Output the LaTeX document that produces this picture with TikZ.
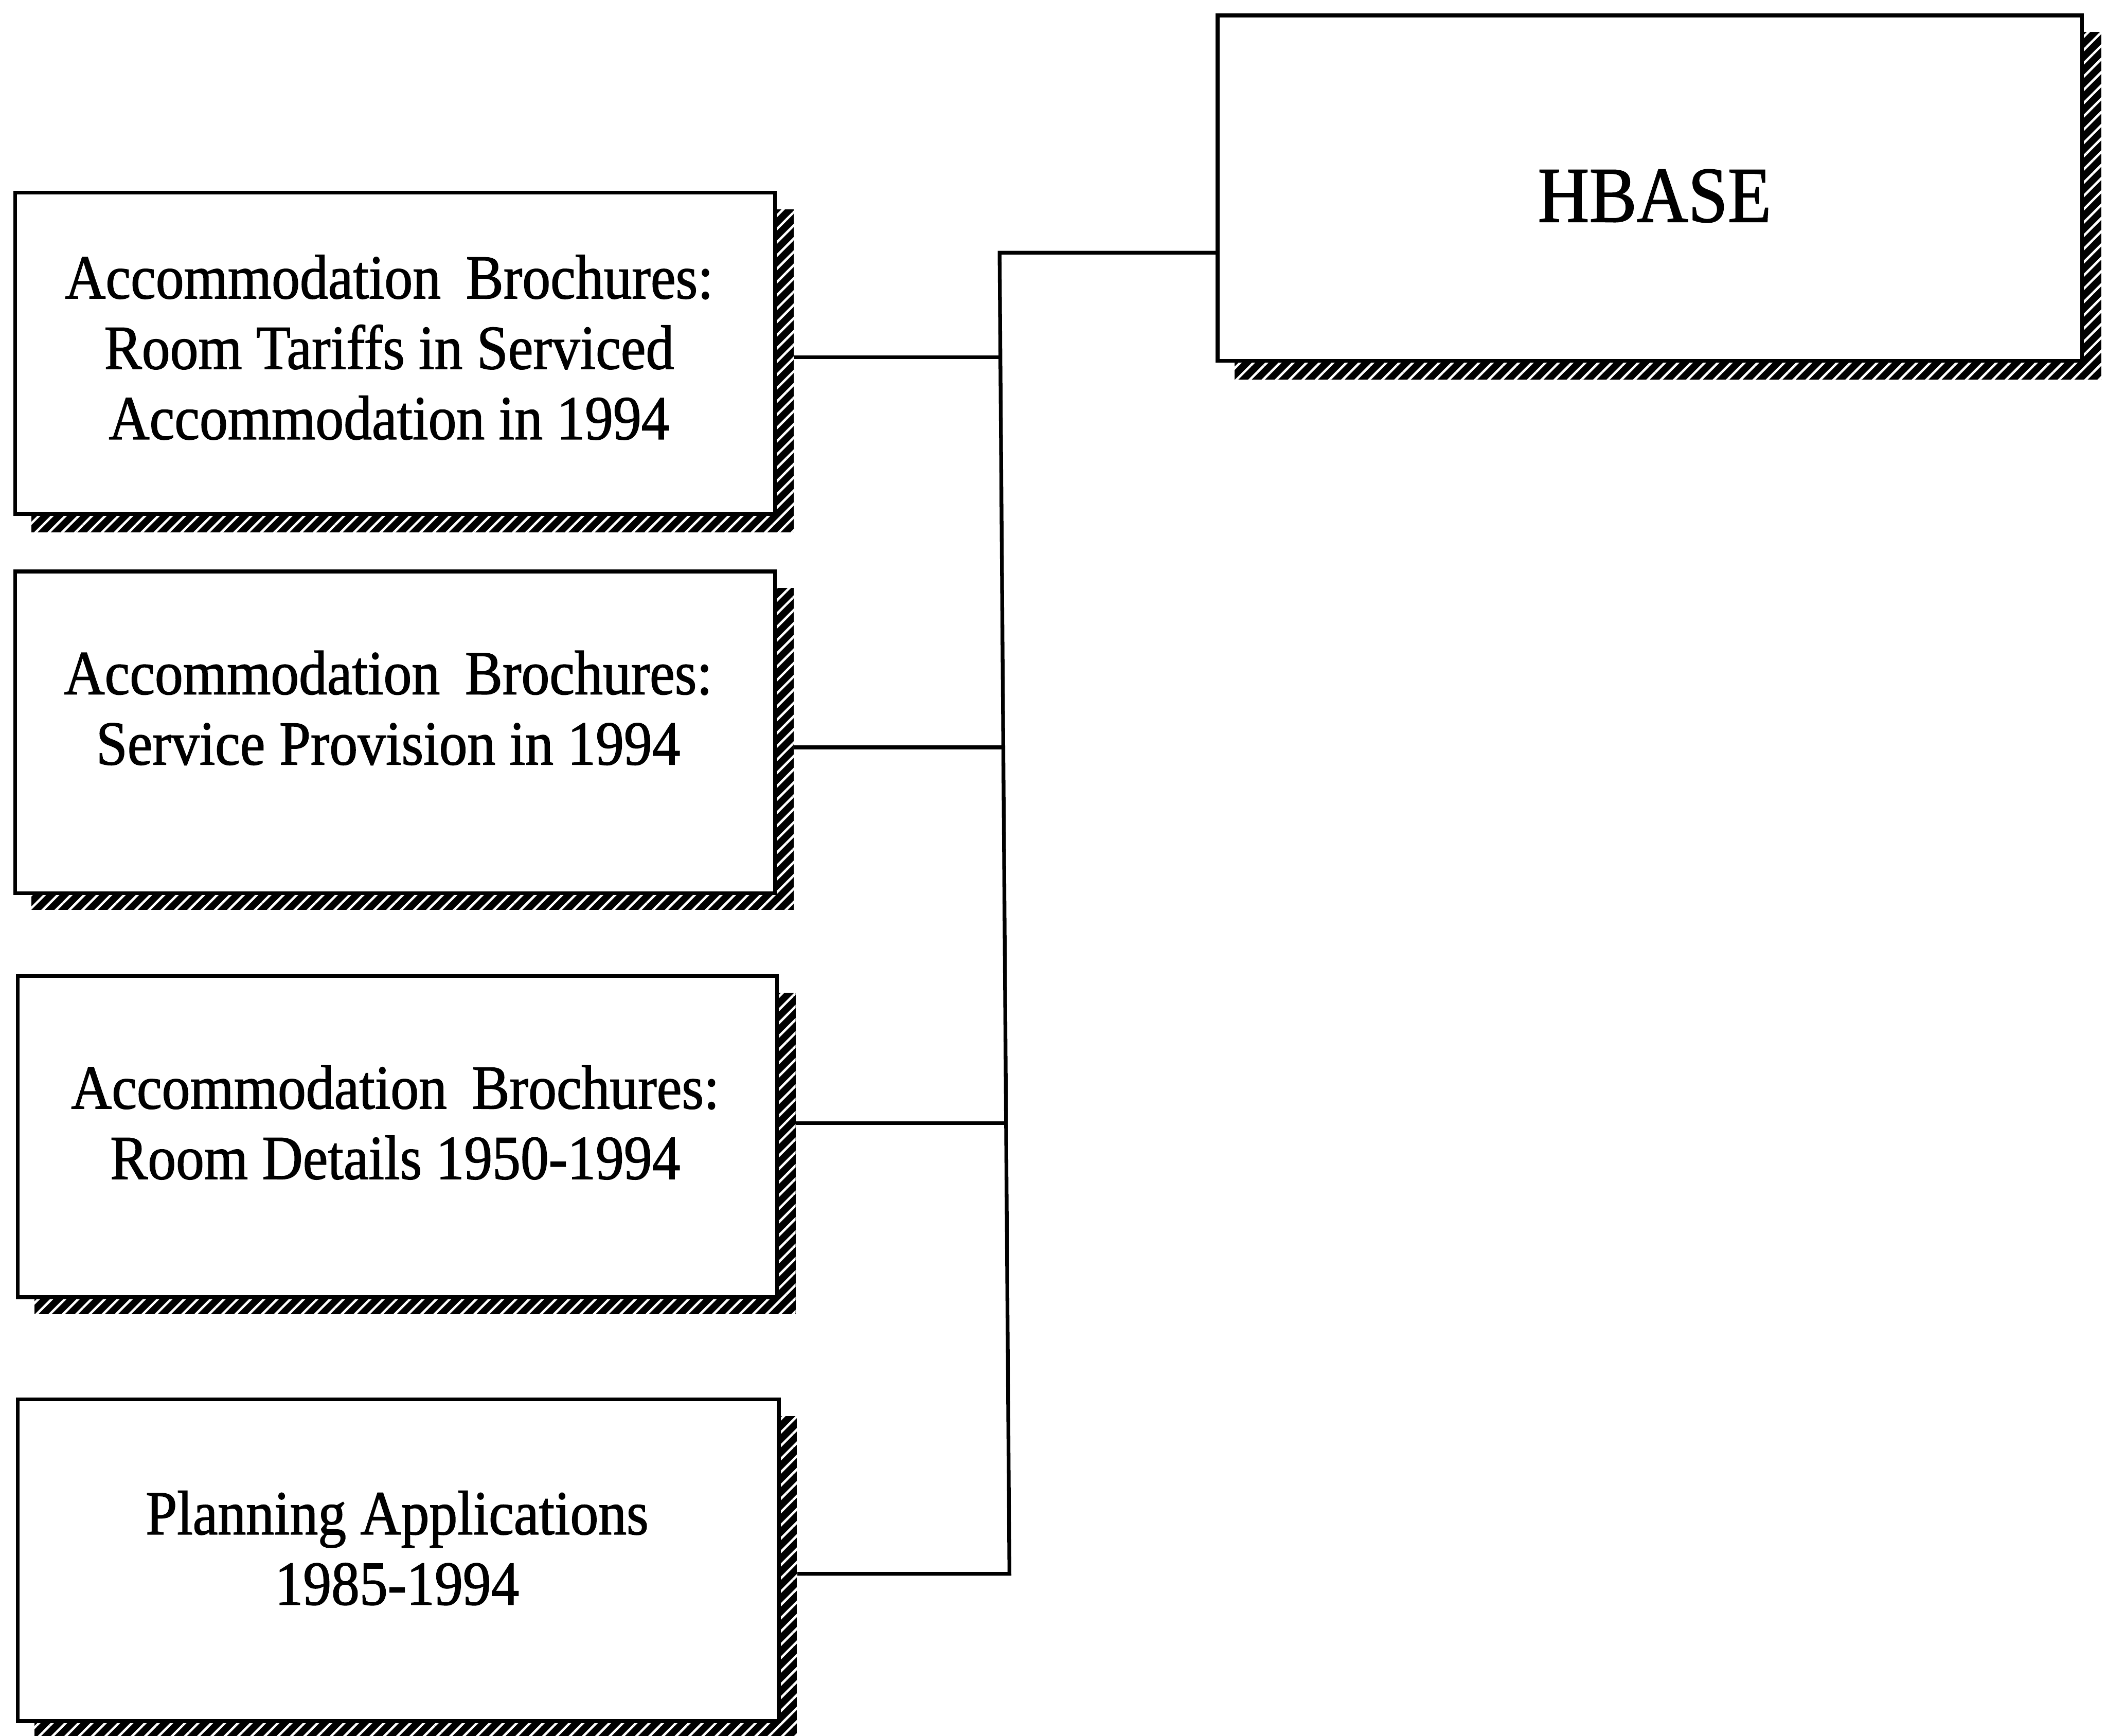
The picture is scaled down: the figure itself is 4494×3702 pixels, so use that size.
\documentclass[tikz,border=0pt]{standalone}
\usepackage{fontspec}
\setmainfont{Liberation Serif}[FakeStretch=0.9,FakeBold=1.2]
\usetikzlibrary{fit,patterns.meta}

\begin{document}
\begin{tikzpicture}[x=0.01cm,y=-0.01cm,
  framebox/.style={draw=black, line width=0.08cm, fill=white, rectangle, inner sep=0pt},
  shadebox/.style={draw=none, rectangle, inner sep=0pt, fill=black,
    postaction={pattern={Lines[angle=45,distance=0.2cm,line width=0.05cm]}, pattern color=white}},
  lbl/.style={align=center, inner sep=0pt, font=\fontsize{38}{42.7}\selectfont},
  title/.style={inner sep=0pt, font=\fontsize{48}{54}\selectfont},
  wire/.style={draw=black, line width=0.08cm, line join=miter}
]
\useasboundingbox (0,0) rectangle (4494,3702);

% drop shadows behind the boxes
\node[shadebox, fit={(2633,68) (4482,810)}] (s0) {};
\node[shadebox, fit={(67,446) (1693,1136)}] (s1) {};
\node[shadebox, fit={(67,1254) (1693,1941)}] (s2) {};
\node[shadebox, fit={(73,2117) (1697,2803)}] (s3) {};
\node[shadebox, fit={(73,3020) (1700,3710)}] (s4) {};

% boxes
\node[framebox, fit={(2597,33) (4441,770)}] (hb) {};
\node[framebox, fit={(32,411) (1653,1096)}] (b1) {};
\node[framebox, fit={(32,1219) (1653,1905)}] (b2) {};
\node[framebox, fit={(38,2082) (1657,2767)}] (b3) {};
\node[framebox, fit={(38,2985) (1661,3671)}] (b4) {};

% box texts
\node[title] (thb) at (3529,418) {HBASE};
\node[lbl] (t1) at (830,741) {Accommodation\hskip.4em Brochures:\\Room Tariffs in Serviced\\Accommodation in 1994};
\node[lbl] (t2) at (828,1510) {Accommodation\hskip.4em Brochures:\\Service Provision in 1994};
\node[lbl] (t3) at (843,2394) {Accommodation\hskip.4em Brochures:\\Room Details 1950-1994};
\node[lbl] (t4) at (847,3302) {Planning Applications\\1985-1994};

% junctions on the bus
\coordinate (c0) at (2132,539);
\coordinate (c1) at (2134,762);
\coordinate (c2) at (2140,1594);
\coordinate (c3) at (2146,2396);
\coordinate (c4) at (2153,3357);

% connectors
\draw[wire] (hb.west |- c0) -- (c0) -- (c4) -- (s4.east |- c4);
\draw[wire] (s1.east |- c1) -- (c1);
\draw[wire] (s2.east |- c2) -- (c2);
\draw[wire] (s3.east |- c3) -- (c3);
\end{tikzpicture}
\end{document}
